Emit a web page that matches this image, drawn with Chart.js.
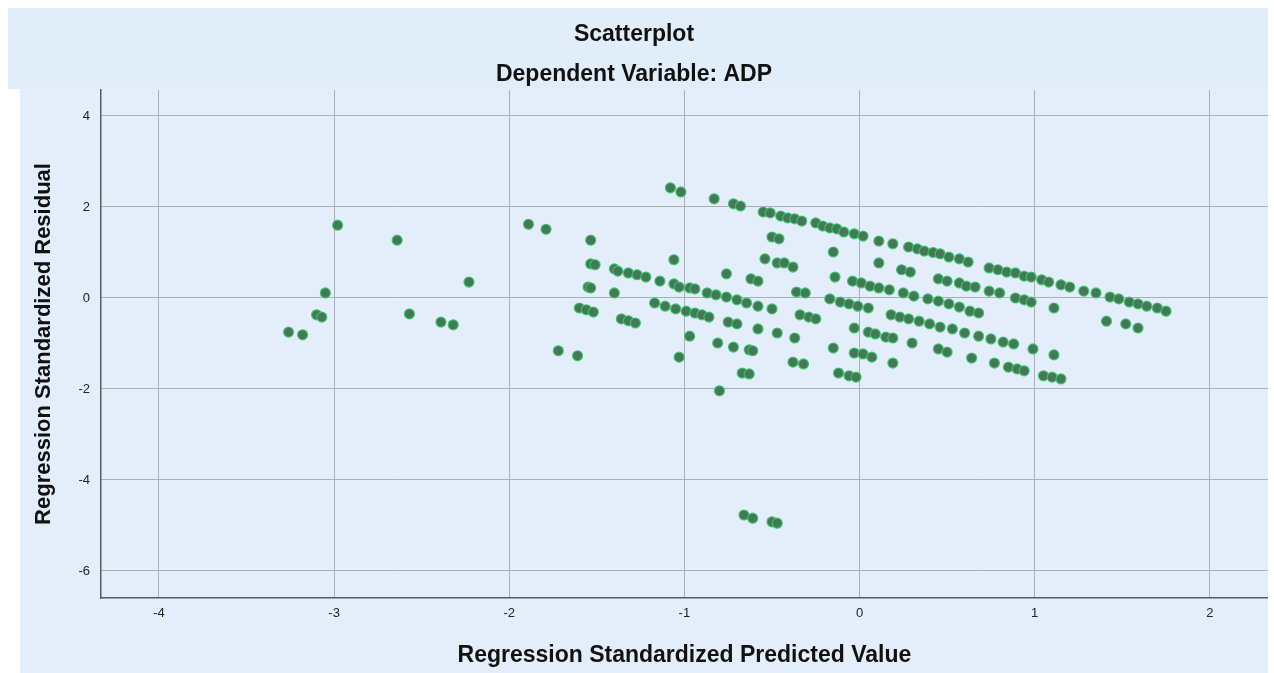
<!DOCTYPE html>
<html>
<head>
<meta charset="utf-8">
<script src="https://cdn.jsdelivr.net/npm/chart.js@4.4.1/dist/chart.umd.min.js"></script>
<style>
  html, body { margin: 0; padding: 0; background: #ffffff; }
  canvas { display: block; }
</style>
</head>
<body>
<canvas id="c" width="1274" height="673"></canvas>
<script>
// Regression Standardized Predicted Value (x) and Regression Standardized Residual (y)
const predicted = [
  // far left
  -2.98, -2.64, -2.23, -3.05, -3.10, -3.07, -3.26, -3.18, -2.57, -2.39, -2.32,
  // left group
  -1.89, -1.79, -1.535, -1.55, -1.535, -1.40, -1.60, -1.56, -1.52, -1.36, -1.32, -1.28, -1.72, -1.61,
  -1.06, -0.97, -0.81, -1.03, -0.80, -0.58, -0.47, -0.37, -0.72, -0.63, -0.61, -0.67, -0.63,
  -0.66, -0.61, -0.50, -0.47,
  // line L1
  -1.535, -1.51, -1.40, -1.38, -1.32, -1.27, -1.22, -1.14, -1.06, -1.03, -0.97, -0.94, -0.87, -0.82,
  -0.76, -0.70, -0.645, -0.58, -0.50,
  // line L2
  -1.17, -1.11, -1.05, -0.99, -0.94, -0.90, -0.86, -0.75, -0.70,
  // isolated mid
  -0.76, -0.62, -0.58,
  // top line
  -1.08, -1.02, -0.83, -0.72, -0.68, -0.55, -0.51, -0.45, -0.41, -0.37, -0.33, -0.25, -0.21, -0.17,
  -0.13, -0.09, -0.03, 0.02, 0.11, 0.19, 0.28, 0.33, 0.37, 0.42, 0.46, 0.51, 0.57, 0.62, 0.74, 0.79,
  0.84, 0.89, 0.94, 0.98, 1.04, 1.08, 1.15, 1.20, 1.28, 1.35, 1.43, 1.48, 1.54, 1.59, 1.64, 1.70, 1.75,
  // second line
  -0.50, -0.46, -0.54, -0.47, -0.43, -0.38, -0.15, 0.11, 0.24, 0.29, -0.14, -0.04, 0.01, 0.06, 0.11,
  0.17, 0.25, 0.31, 0.45, 0.50, 0.57, 0.61, 0.66, 0.74, 0.80, 0.89, 0.94, 0.98, 1.11,
  // third line
  -0.36, -0.31, -0.17, -0.11, -0.06, -0.01, 0.05, 0.39, 0.45, 0.51, 0.57, 0.63, 0.68,
  // line B
  -0.34, -0.29, -0.25, 0.18, 0.23, 0.28, 0.34, 0.40, 0.46, 0.53, 0.60, 0.68, 0.75, 0.82, 0.88, 0.99,
  // lower scattered
  -0.03, 0.05, 0.09, 0.15, 0.19, 0.30, 0.45, 0.50, 0.64, 0.77, 0.85, 0.90, 0.94, 1.11, 1.05, 1.10, 1.15,
  0.19, -0.15, -0.03, 0.02, 0.07, -0.38, -0.32, -0.12, -0.06, -0.02, 1.41, 1.52, 1.59
];
const residual = [
  1.60, 1.27, 0.35, 0.11, -0.37, -0.42, -0.75, -0.81, -0.35, -0.53, -0.59,
  1.62, 1.51, 1.27, 0.24, 0.22, 0.11, -0.22, -0.26, -0.31, -0.46, -0.50, -0.55, -1.16, -1.27,
  0.84, -0.84, -0.99, -1.30, -2.04, -0.68, -0.77, -0.88, -1.08, -1.14, -1.16, -1.65, -1.67,
  -4.77, -4.84, -4.92, -4.95,
  0.75, 0.73, 0.64, 0.59, 0.55, 0.51, 0.46, 0.37, 0.31, 0.24, 0.22, 0.20, 0.11, 0.07,
  0.02, -0.04, -0.11, -0.18, -0.24,
  -0.11, -0.18, -0.24, -0.29, -0.33, -0.37, -0.42, -0.53, -0.57,
  0.53, 0.42, 0.37,
  2.42, 2.33, 2.18, 2.07, 2.02, 1.89, 1.87, 1.80, 1.76, 1.74, 1.69, 1.65, 1.58, 1.54,
  1.52, 1.45, 1.41, 1.36, 1.25, 1.19, 1.12, 1.08, 1.03, 1.00, 0.97, 0.90, 0.86, 0.79, 0.66, 0.62,
  0.57, 0.55, 0.48, 0.46, 0.40, 0.35, 0.29, 0.24, 0.15, 0.11, 0.02, -0.02, -0.09, -0.13, -0.18, -0.22, -0.29,
  1.34, 1.30, 0.86, 0.77, 0.77, 0.68, 1.01, 0.77, 0.62, 0.57, 0.46, 0.37, 0.33, 0.26, 0.22,
  0.18, 0.11, 0.04, 0.42, 0.37, 0.33, 0.26, 0.24, 0.15, 0.11, 0.00, -0.04, -0.09, -0.22,
  0.13, 0.11, -0.02, -0.09, -0.13, -0.18, -0.22, -0.02, -0.07, -0.13, -0.20, -0.29, -0.33,
  -0.37, -0.42, -0.46, -0.37, -0.42, -0.46, -0.51, -0.57, -0.64, -0.68, -0.77, -0.84, -0.90, -0.97, -1.01, -1.12,
  -0.66, -0.75, -0.79, -0.86, -0.88, -0.99, -1.12, -1.19, -1.32, -1.43, -1.52, -1.56, -1.60, -1.25, -1.71, -1.74, -1.78,
  -1.43, -1.10, -1.21, -1.23, -1.30, -1.41, -1.45, -1.65, -1.71, -1.74, -0.51, -0.57, -0.66
];
const xTickValues = [-4, -3, -2, -1, 0, 1, 2];
const yTickValues = [-6, -4, -2, 0, 2, 4];
const titleText = 'Scatterplot';
const subtitleText = 'Dependent Variable: ADP';
const xTitle = 'Regression Standardized Predicted Value';
const yTitle = 'Regression Standardized Residual';

const points = predicted.map((x, i) => ({ x: x, y: residual[i] }));

const bgPlugin = {
  id: 'bg',
  beforeDraw(chart) {
    const ctx = chart.ctx;
    ctx.save();
    ctx.fillStyle = '#ffffff';
    ctx.fillRect(0, 0, chart.width, chart.height);
    ctx.fillStyle = '#E1EDF9';
    ctx.fillRect(8, 8, 1260, 81);
    ctx.fillStyle = '#E3EEFA';
    ctx.fillRect(20, 89, 1248, 584);
    ctx.restore();
  }
};

const FONT = "'Liberation Sans', Arial, sans-serif";

new Chart(document.getElementById('c'), {
  type: 'scatter',
  data: {
    datasets: [{
      data: points,
      backgroundColor: 'rgb(68,120,86)',
      borderColor: 'rgba(58,196,108,0.9)',
      borderWidth: 1.2,
      pointRadius: 5,
      pointHoverRadius: 5
    }]
  },
  options: {
    responsive: false,
    animation: false,
    layout: { padding: { left: 0, right: 6, top: 0, bottom: 0 } },
    plugins: {
      legend: { display: false },
      tooltip: { enabled: false },
      title: {
        display: true,
        text: titleText,
        color: '#111',
        font: { family: FONT, size: 23, weight: 'bold' },
        padding: { top: 20.5, bottom: 13.1 }
      },
      subtitle: {
        display: true,
        text: subtitleText,
        color: '#111',
        font: { family: FONT, size: 23, weight: 'bold' },
        padding: { top: 0, bottom: 1.2 }
      }
    },
    scales: {
      x: {
        type: 'linear',
        min: -4.331,
        max: 2.331,
        afterFit(scale) { scale.height = 75; },
        afterBuildTicks(scale) { scale.ticks = xTickValues.map(v => ({ value: v })); },
        ticks: {
          includeBounds: false,
          color: '#222',
          font: { family: FONT, size: 13 },
          padding: 8,
          callback: v => String(v)
        },
        grid: { color: '#A9B0B8', lineWidth: 1, drawTicks: false },
        border: { color: '#5a5a5a', width: 1.5 },
        title: {
          display: true,
          text: xTitle,
          color: '#111',
          font: { family: FONT, size: 23, weight: 'bold' },
          padding: { top: 0, bottom: 3.2 }
        }
      },
      y: {
        type: 'linear',
        min: -6.594,
        max: 4.571,
        afterFit(scale) { scale.width = 101; },
        afterBuildTicks(scale) { scale.ticks = yTickValues.map(v => ({ value: v })); },
        ticks: {
          includeBounds: false,
          color: '#222',
          font: { family: FONT, size: 13 },
          padding: 11,
          callback: v => String(v)
        },
        grid: { color: '#A9B0B8', lineWidth: 1, drawTicks: false },
        border: { color: '#5a5a5a', width: 1.5 },
        title: {
          display: true,
          text: yTitle,
          color: '#111',
          font: { family: FONT, size: 22, weight: 'bold' },
          padding: { top: 30.8, bottom: 0 }
        }
      }
    }
  },
  plugins: [bgPlugin]
});
</script>
</body>
</html>
